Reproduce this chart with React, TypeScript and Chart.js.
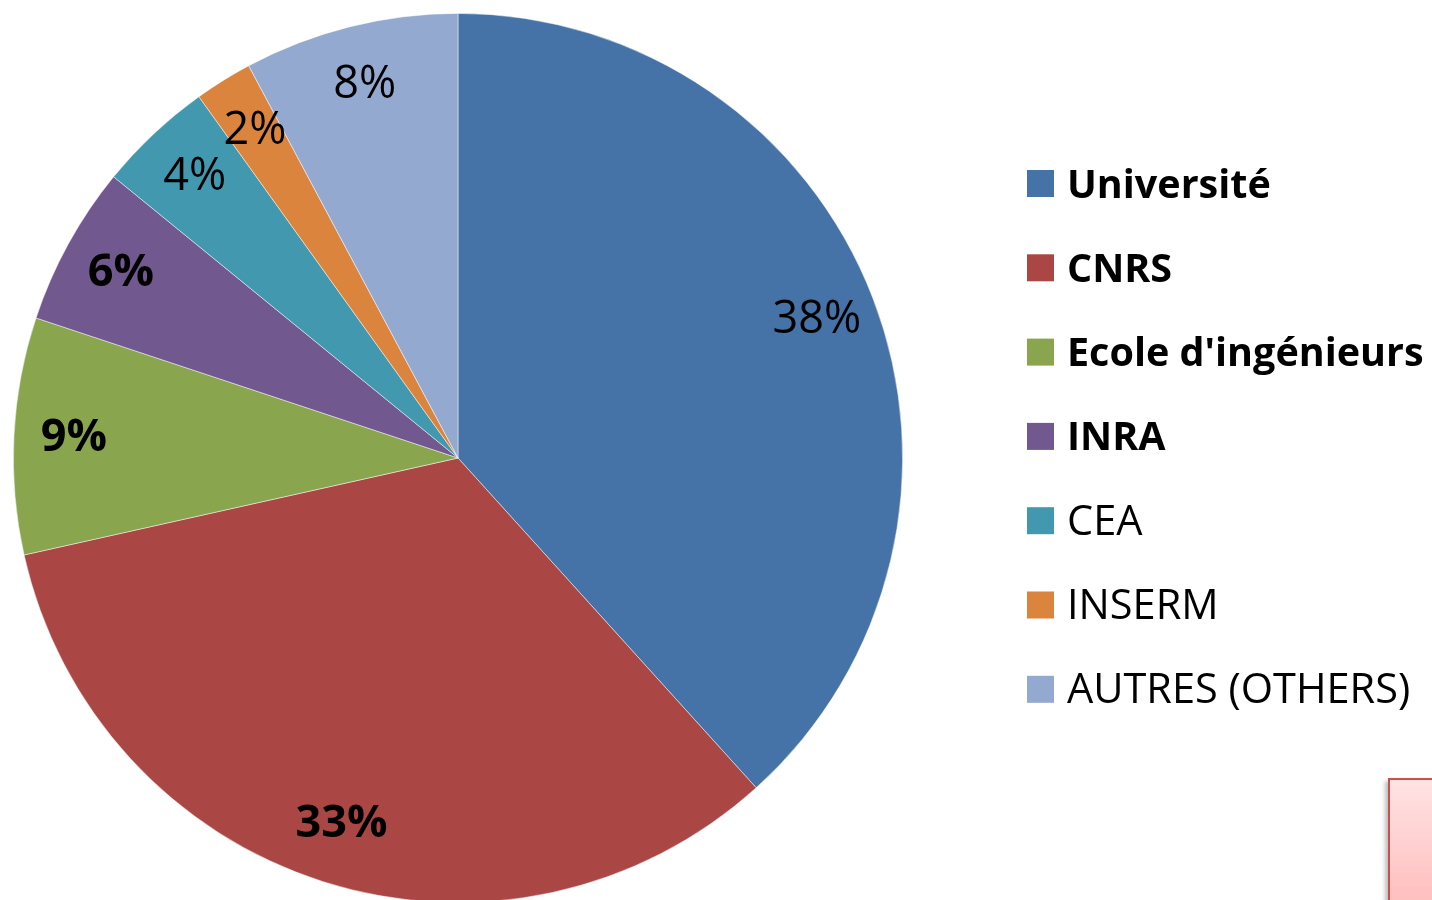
import React, { useEffect, useRef } from "react";
import { Chart, registerables } from "chart.js";

Chart.register(...registerables);

const categories = [
  "Université",
  "CNRS",
  "Ecole d'ingénieurs",
  "INRA",
  "CEA",
  "INSERM",
  "AUTRES (OTHERS)",
];
const shares = [38.3, 33.2, 8.6, 5.8, 4.2, 2.1, 7.8];
const colors = ["#4572A7", "#AA4643", "#89A54E", "#71588F", "#4198AF", "#DB843D", "#93A9CF"];
const legendBold = [true, true, true, true, false, false, false];
const labelBold = [false, true, true, true, false, false, false];

const FONT = "'Open Sans', Lato, sans-serif";

const pieLabels = {
  id: "pieLabels",
  afterDatasetsDraw(chart: any) {
    const ctx = chart.ctx;
    const meta = chart.getDatasetMeta(0);
    const data = chart.data.datasets[0].data as number[];
    ctx.save();
    ctx.fillStyle = "#000";
    ctx.textAlign = "center";
    ctx.textBaseline = "middle";
    meta.data.forEach((arc: any, i: number) => {
      const p = arc.getProps(["x", "y", "startAngle", "endAngle", "outerRadius"], true);
      const mid = (p.startAngle + p.endAngle) / 2;
      const r = p.outerRadius * 0.865;
      const x = p.x + Math.cos(mid) * r;
      const y = p.y + Math.sin(mid) * r;
      ctx.font = `${labelBold[i] ? "bold " : ""}45px ${FONT}`;
      ctx.fillText(`${Math.round(data[i])}%`, x, y);
    });
    ctx.restore();
  },
};

const sideLegend = {
  id: "sideLegend",
  afterDraw(chart: any) {
    const ctx = chart.ctx;
    const ds = chart.data.datasets[0];
    ctx.save();
    const boxX = 1027;
    const textX = 1067;
    const top0 = 170;
    const step = 84.3;
    const box = 27;
    chart.data.labels.forEach((lab: string, i: number) => {
      const top = top0 + i * step;
      ctx.fillStyle = ds.backgroundColor[i];
      ctx.fillRect(boxX, top, box, box);
      ctx.fillStyle = "#000";
      ctx.textAlign = "left";
      ctx.textBaseline = "alphabetic";
      ctx.font = legendBold[i] ? `bold 39.5px ${FONT}` : `41.5px ${FONT}`;
      ctx.fillText(lab, textX, top + box + 0.5);
    });
    ctx.restore();
  },
};

export default function App() {
  const ref = useRef<HTMLCanvasElement>(null);
  useEffect(() => {
    if (!ref.current) return;
    const chart = new Chart(ref.current, {
      type: "pie",
      data: {
        labels: categories,
        datasets: [
          {
            data: shares,
            backgroundColor: colors,
            borderColor: "rgba(255,255,255,0.6)",
            borderWidth: 0.8,
          },
        ],
      },
      options: {
        responsive: false,
        animation: false,
        layout: { padding: { left: 13, top: 13, right: 529, bottom: 13 } },
        plugins: {
          legend: { display: false },
          tooltip: { enabled: false },
        },
      },
      plugins: [pieLabels, sideLegend],
    });
    return () => chart.destroy();
  }, []);
  return (
    <div style={{ position: "absolute", left: 0, top: 0, width: 1432, height: 900, overflow: "hidden", background: "#fff" }}>
      <canvas ref={ref} width={1432} height={916} style={{ position: "absolute", left: 0, top: 0 }} />
      <div
        style={{
          position: "absolute",
          left: 1388,
          top: 778,
          width: 120,
          height: 200,
          boxSizing: "border-box",
          border: "2px solid #C9504F",
          background: "linear-gradient(#FFE3E3, #FFA8A8)",
          boxShadow: "-3px 3px 4px rgba(0,0,0,0.25)",
        }}
      />
    </div>
  );
}
